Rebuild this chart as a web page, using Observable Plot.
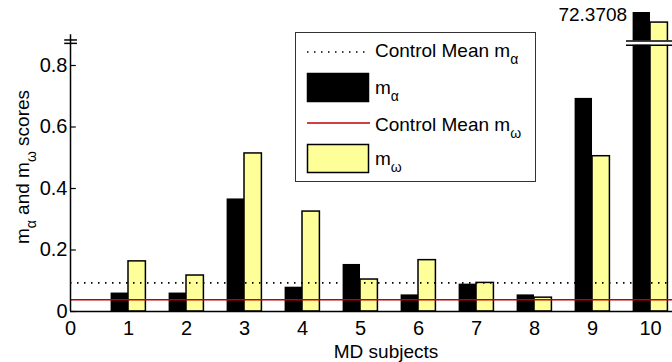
<!DOCTYPE html>
<html><head><meta charset="utf-8">
<script src="https://cdn.jsdelivr.net/npm/d3@7"></script>
<script src="https://cdn.jsdelivr.net/npm/@observablehq/plot@0.6"></script>
<style>
body{margin:0;background:#fff;}
#wrap{position:relative;width:672px;height:362px;overflow:hidden;font-family:"Liberation Sans",Arial,sans-serif;}
#wrap svg{display:block;}
#legend{position:absolute;left:0;top:0;}
</style></head><body><div id="wrap"></div>
<script>
// ---- data ----
const subjects = [1, 2, 3, 4, 5, 6, 7, 8, 9, 10];
const mAlpha   = [0.060, 0.060, 0.366, 0.079, 0.153, 0.054, 0.089, 0.054, 0.693, 72.3708];
const mOmega   = [0.163, 0.117, 0.514, 0.325, 0.104, 0.167, 0.093, 0.045, 0.505, 40];
const controlMeanAlpha = 0.093;
const controlMeanOmega = 0.038;
const xTicks = [0, 1, 2, 3, 4, 5, 6, 7, 8, 9, 10];
const yTicks = [0, 0.2, 0.4, 0.6, 0.8];
const yTickLabels = ["0", "0.2", "0.4", "0.6", "0.8"];
const yBreakAt = 0.9;          // broken y axis: above this the scale is compressed
const yMaxValue = 72.3708;
const barBreak  = [0.866, 0.880];
const axisBreak = [0.872, 0.883];
const legendLabels = ["Control Mean m", "m", "Control Mean m", "m"];
const legendSubs   = ["α", "α", "ω", "ω"];

const yellow = "#ffff99";
const red = "#c00000";
const barW = 0.3;
const xMax = 10.379;
const data = subjects.map((s, i) => ({s, a: mAlpha[i], w: mOmega[i]}));
const font = '"Liberation Sans", Arial, sans-serif';

// piecewise mapping for the broken axis
const upperSpan = 22.25 / 307.5;   // height of the compressed upper segment, in lower-axis units
const yTransform = v => v <= yBreakAt ? v : yBreakAt + (v - yBreakAt) / (yMaxValue - yBreakAt) * upperSpan;

const chart = Plot.plot({
  width: 672, height: 362,
  marginLeft: 70, marginRight: 0, marginTop: 12, marginBottom: 51,
  style: {fontFamily: font, fontSize: "20px", background: "white", color: "black", overflow: "visible"},
  x: {domain: [0, xMax], range: [70, 672]},
  y: {transform: yTransform, domain: [0, yBreakAt + upperSpan], range: [311, 12]},
  marks: [
    Plot.rectY(data, {x1: d => d.s - barW, x2: d => d.s, y1: 0, y2: "a", fill: "black"}),
    Plot.rectY(data, {x1: d => d.s, x2: d => d.s + barW, y1: 0, y2: "w", fill: yellow, stroke: "black", strokeWidth: 1.5}),
    Plot.rect([barBreak], {x1: 9.586, x2: xMax, y1: d => d[0], y2: d => d[1], fill: "white"}),
    Plot.ruleY(barBreak, {x1: 9.586, x2: xMax, stroke: "black", strokeWidth: 1.5}),
    Plot.ruleY([controlMeanAlpha], {x1: 0, x2: xMax, stroke: "black", strokeDasharray: "1.5,5.5", strokeWidth: 1.6}),
    Plot.ruleY([controlMeanOmega], {x1: 0, x2: xMax, stroke: red, strokeWidth: 1.5}),
    Plot.ruleY([0], {x1: 0, x2: xMax, stroke: "black", strokeWidth: 1.5}),
    Plot.ruleX([0], {y1: 0, y2: yBreakAt, stroke: "black", strokeWidth: 1.5}),
    Plot.ruleY(yTicks, {x1: 0, x2: 0.1, stroke: "black", strokeWidth: 1.2}),
    Plot.ruleY(axisBreak, {x1: -0.1, x2: 0.12, stroke: "black", strokeWidth: 1.5}),
    Plot.text([data[9]], {x: d => d.s - barW, y: "a", text: d => String(d.a), textAnchor: "end", lineAnchor: "top", dx: -6, dy: -5, fontSize: 19, fill: "black"}),
    Plot.axisY({ticks: yTicks, tickFormat: (d, i) => yTickLabels[yTicks.indexOf(d)], tickSize: 0, tickPadding: 3, label: null, fontSize: 20}),
    Plot.axisX({ticks: xTicks, tickFormat: d => String(d), tickSize: 0, tickPadding: 9, label: null, fontSize: 20})
  ]
});

const wrap = document.getElementById("wrap");
wrap.appendChild(chart);

// axis titles with subscripts
const svg = d3.select(chart);
svg.append("text")
  .attr("x", 386).attr("y", 358)
  .attr("text-anchor", "middle")
  .attr("font-family", font).attr("font-size", 19).attr("fill", "black")
  .text("MD subjects");

const yl = svg.append("text")
  .attr("transform", "translate(29,167) rotate(-90)")
  .attr("text-anchor", "middle")
  .attr("font-family", font).attr("font-size", 19).attr("fill", "black");
yl.append("tspan").text("m");
yl.append("tspan").attr("dy", 7).attr("font-size", 14).text("α");
yl.append("tspan").attr("dy", -7).text(" and m");
yl.append("tspan").attr("dy", 7).attr("font-size", 14).text("ω");
yl.append("tspan").attr("dy", -7).text(" scores");

// legend overlay
const lg = d3.select(wrap).append("svg")
  .attr("id", "legend").attr("width", 672).attr("height", 362)
  .style("pointer-events", "none");
lg.append("rect").attr("x", 295.5).attr("y", 32.5).attr("width", 240).attr("height", 149)
  .attr("fill", "white").attr("stroke", "#333").attr("stroke-width", 1);
const rows = [
  {type: "dot",  cy: 52,  base: 57},
  {type: "bar",  cy: 87.5, base: 94, fill: "black"},
  {type: "line", cy: 123, base: 131},
  {type: "bar",  cy: 158.5, base: 165, fill: yellow}
];
rows.forEach((r, i) => {
  if (r.type === "dot") {
    lg.append("line").attr("x1", 307).attr("x2", 370).attr("y1", r.cy).attr("y2", r.cy)
      .attr("stroke", "black").attr("stroke-width", 1.6).attr("stroke-dasharray", "1.5,5.5");
  } else if (r.type === "line") {
    lg.append("line").attr("x1", 307).attr("x2", 370).attr("y1", r.cy).attr("y2", r.cy)
      .attr("stroke", red).attr("stroke-width", 1.5);
  } else {
    lg.append("rect").attr("x", 307.5).attr("y", r.cy - 14).attr("width", 61).attr("height", 28)
      .attr("fill", r.fill).attr("stroke", "black").attr("stroke-width", 1.5);
  }
  const t = lg.append("text").attr("x", 375).attr("y", r.base)
    .attr("font-family", font).attr("font-size", 19).attr("fill", "black");
  t.append("tspan").text(legendLabels[i]);
  t.append("tspan").attr("dy", 7).attr("font-size", 14).text(legendSubs[i]);
});
</script></body></html>
